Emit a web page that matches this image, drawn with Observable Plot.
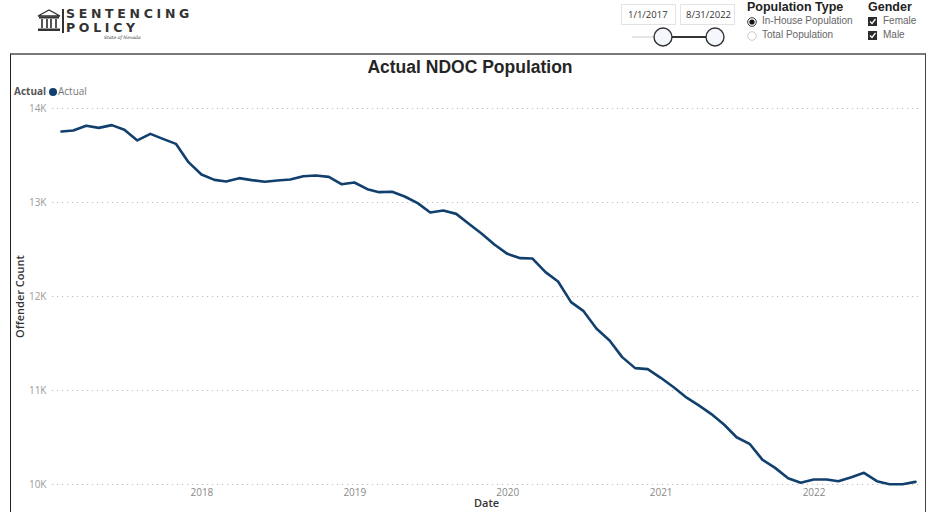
<!DOCTYPE html>
<html>
<head>
<meta charset="utf-8">
<script src="https://cdn.jsdelivr.net/npm/d3@7"></script>
<script src="https://cdn.jsdelivr.net/npm/@observablehq/plot@0.6"></script>
<style>
  html, body { margin: 0; padding: 0; background: #fff; }
  #wrap { position: relative; width: 929px; height: 512px; overflow: hidden; font-family: "Open Sans", "Noto Sans", sans-serif; }
  #wrap > svg { position: absolute; left: 0; top: 0; }
  .abs { position: absolute; white-space: nowrap; }
</style>
</head>
<body>
<div id="wrap">
  <div id="chart"></div>
  <!-- chart frame -->
  <div class="abs" style="left:10px;top:53px;width:914px;height:470px;border-top:2px solid #7a7a7a;border-left:1.5px solid #222;border-right:1.5px solid #444;"></div>
  <!-- logo -->
  <svg class="abs" style="left:37px;top:9px" width="24" height="24" viewBox="0 0 24 24">
    <polygon points="12,1 1,7 23,7" fill="none" stroke="#333" stroke-width="1.4"/>
    <rect x="2" y="7.5" width="20" height="2" fill="#333"/>
    <rect x="4" y="10" width="2" height="9" fill="#555"/>
    <rect x="9" y="10" width="2" height="9" fill="#555"/>
    <rect x="13" y="10" width="2" height="9" fill="#555"/>
    <rect x="18" y="10" width="2" height="9" fill="#555"/>
    <rect x="1" y="19.5" width="22" height="2.5" fill="#333"/>
  </svg>
  <div class="abs" style="left:62px;top:9px;width:1.5px;height:24px;background:#333"></div>
  <div class="abs" style="left:66px;top:7px;font-family:'DejaVu Sans',sans-serif;font-weight:bold;font-size:12.5px;letter-spacing:3.7px;color:#333;line-height:13px">SENTENCING</div>
  <div class="abs" style="left:66px;top:21px;font-family:'DejaVu Sans',sans-serif;font-weight:bold;font-size:12.5px;letter-spacing:3.7px;color:#333;line-height:13px">POLICY</div>
  <div class="abs" style="left:104px;top:35px;font-family:'DejaVu Serif',serif;font-size:4.5px;font-style:italic;color:#333;line-height:5px">State of Nevada</div>
  <!-- date range -->
  <div class="abs" style="left:621px;top:4px;width:53px;height:19px;border:1px solid #e3e3e3;font-size:9.5px;line-height:19px;color:#333;text-indent:6px">1/1/2017</div>
  <div class="abs" style="left:680px;top:4px;width:53px;height:19px;border:1px solid #e3e3e3;font-size:9.5px;line-height:19px;color:#333;text-indent:5px">8/31/2022</div>
  <svg class="abs" style="left:625px;top:24px" width="110" height="28">
    <line x1="7" y1="13" x2="38" y2="13" stroke="#e6e6e6" stroke-width="2"/>
    <line x1="38" y1="13" x2="90" y2="13" stroke="#333" stroke-width="2"/>
    <circle cx="38" cy="13" r="9" fill="#f4f7fc" stroke="#333" stroke-width="1.4"/>
    <circle cx="90" cy="13" r="9" fill="#f4f7fc" stroke="#333" stroke-width="1.4"/>
  </svg>
  <!-- population type -->
  <div class="abs" style="left:747px;top:0px;font-family:'Liberation Sans',Arial,sans-serif;font-weight:bold;font-size:12.5px;color:#222">Population Type</div>
  <svg class="abs" style="left:746px;top:16px" width="14" height="28">
    <circle cx="6" cy="6" r="4.3" fill="#fff" stroke="#333" stroke-width="1"/>
    <circle cx="6" cy="6" r="2.6" fill="#111"/>
    <circle cx="6" cy="20" r="4.3" fill="#fff" stroke="#ccc" stroke-width="1"/>
  </svg>
  <div class="abs" style="left:762px;top:15px;font-family:'Liberation Sans',Arial,sans-serif;font-size:10px;color:#666">In-House Population</div>
  <div class="abs" style="left:762px;top:29px;font-family:'Liberation Sans',Arial,sans-serif;font-size:10px;color:#666">Total Population</div>
  <!-- gender -->
  <div class="abs" style="left:868px;top:0px;font-family:'Liberation Sans',Arial,sans-serif;font-weight:bold;font-size:12.5px;color:#222">Gender</div>
  <svg class="abs" style="left:867px;top:16px" width="12" height="28">
    <rect x="1" y="1" width="9" height="9" fill="#2b2b2b"/>
    <polyline points="3,5.5 5,7.5 8.5,3" fill="none" stroke="#fff" stroke-width="1.3"/>
    <rect x="1" y="15" width="9" height="9" fill="#2b2b2b"/>
    <polyline points="3,19.5 5,21.5 8.5,17" fill="none" stroke="#fff" stroke-width="1.3"/>
  </svg>
  <div class="abs" style="left:883px;top:15px;font-family:'Liberation Sans',Arial,sans-serif;font-size:10px;color:#666">Female</div>
  <div class="abs" style="left:883px;top:29px;font-family:'Liberation Sans',Arial,sans-serif;font-size:10px;color:#666">Male</div>
  <!-- title -->
  <div class="abs" style="left:0;width:940px;top:57px;text-align:center;font-family:'Liberation Sans',Arial,sans-serif;font-weight:bold;font-size:17.5px;color:#252525">Actual NDOC Population</div>
  <!-- legend -->
  <div class="abs" style="left:14px;top:84px;font-size:10px;color:#555;font-weight:bold">Actual</div>
  <div class="abs" style="left:49px;top:88px;width:8px;height:8px;border-radius:50%;background:#12406e"></div>
  <div class="abs" style="left:58px;top:84px;font-size:10px;color:#777">Actual</div>
</div>
<script>
// Month-end snapshot dates
const dates = [
  "2017-01-31","2017-02-28","2017-03-31","2017-04-30","2017-05-31","2017-06-30","2017-07-31","2017-08-31","2017-09-30","2017-10-31","2017-11-30","2017-12-31",
  "2018-01-31","2018-02-28","2018-03-31","2018-04-30","2018-05-31","2018-06-30","2018-07-31","2018-08-31","2018-09-30","2018-10-31","2018-11-30","2018-12-31",
  "2019-01-31","2019-02-28","2019-03-31","2019-04-30","2019-05-31","2019-06-30","2019-07-31","2019-08-31","2019-09-30","2019-10-31","2019-11-30","2019-12-31",
  "2020-01-31","2020-02-29","2020-03-31","2020-04-30","2020-05-31","2020-06-30","2020-07-31","2020-08-31","2020-09-30","2020-10-31","2020-11-30","2020-12-31",
  "2021-01-31","2021-02-28","2021-03-31","2021-04-30","2021-05-31","2021-06-30","2021-07-31","2021-08-31","2021-09-30","2021-10-31","2021-11-30","2021-12-31",
  "2022-01-31","2022-02-28","2022-03-31","2022-04-30","2022-05-31","2022-06-30","2022-07-31","2022-08-31"
];
// Actual in-house population (offender count)
const actual = [
  13755, 13766, 13816, 13794, 13823, 13773, 13660, 13730, 13677, 13624, 13429, 13298,
  13241, 13223, 13259, 13238, 13220, 13234, 13245, 13280, 13287, 13273, 13195, 13213,
  13142, 13110, 13114, 13064, 12993, 12894, 12915, 12879, 12773, 12667, 12553, 12454,
  12408, 12404, 12259, 12160, 11940, 11844, 11656, 11532, 11355, 11238, 11227, 11135,
  11035, 10933, 10844, 10752, 10638, 10503, 10433, 10262, 10177, 10067, 10018, 10053,
  10053, 10035, 10078, 10124, 10035, 10003, 10003, 10028
];
const yTicks = [10000, 11000, 12000, 13000, 14000];
const yTickLabels = ["10K", "11K", "12K", "13K", "14K"];
const xTickYears = [2018, 2019, 2020, 2021, 2022];

const data = dates.map((d, i) => ({date: new Date(d), value: actual[i]}));
const xTicks = xTickYears.map(y => new Date(Date.UTC(y, 0, 1)));

const chart = Plot.plot({
  width: 929,
  height: 512,
  marginLeft: 52,
  marginRight: 9,
  marginTop: 108,
  marginBottom: 28,
  style: {background: "transparent", fontFamily: "'Open Sans', 'Noto Sans', sans-serif", fontSize: "10px", overflow: "visible"},
  x: {type: "utc", domain: [data[0].date, data[data.length - 1].date], insetLeft: 9, insetRight: 5},
  y: {domain: [10000, 14000]},
  marks: [
    Plot.gridY(yTicks, {stroke: "#bdbdbd", strokeOpacity: 1, strokeDasharray: "1.2,3.8", strokeWidth: 1.2}),
    Plot.axisY(yTicks, {tickSize: 0, tickPadding: 6, tickFormat: d => yTickLabels[yTicks.indexOf(d)], fill: "#9a9a9a", label: null}),
    Plot.axisX(xTicks, {tickSize: 0, tickPadding: 4, tickFormat: d => String(d.getUTCFullYear()), fill: "#8a8a8a", label: null}),
    Plot.line(data, {x: "date", y: "value", stroke: "#12406e", strokeWidth: 2.6}),
    Plot.text(["Offender Count"], {text: d => d, frameAnchor: "left", textAnchor: "middle", dx: -32, rotate: -90, fill: "#333", fontWeight: 600, fontSize: 11}),
    Plot.text(["Date"], {text: d => d, frameAnchor: "bottom", dy: 22, fill: "#333", fontWeight: 600, fontSize: 11})
  ]
});
document.getElementById("wrap").insertBefore(chart, document.getElementById("wrap").firstChild);
</script>
</body>
</html>
